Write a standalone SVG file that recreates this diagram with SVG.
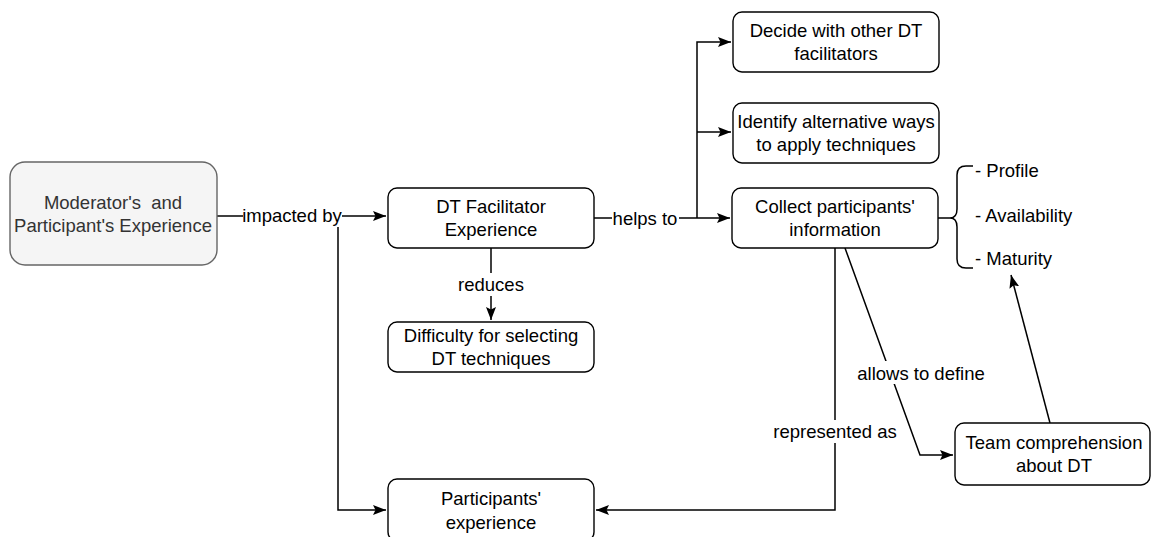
<svg xmlns="http://www.w3.org/2000/svg" width="1152" height="537" viewBox="0 0 1152 537">
<style>
.box{fill:#fff;stroke:#000;stroke-width:1.4}
.grey{fill:#f5f5f5;stroke:#666;stroke-width:1.4}
text{font-family:"Liberation Sans",Arial,sans-serif;font-size:18.5px;fill:#000;text-anchor:middle;white-space:pre}
.gt{fill:#333}
.lt{text-anchor:start}
.edge{fill:none;stroke:#000;stroke-width:1.5}
.lbl{fill:#fff;stroke:none}
</style>
<defs>
<marker id="arr" markerUnits="userSpaceOnUse" markerWidth="14" markerHeight="12" refX="13" refY="5.5" orient="auto">
<path d="M0,0.5 L13,5.5 L0,10.5 L2.5,5.5 Z" fill="#000"/>
</marker>
</defs>
<rect width="1152" height="537" fill="#fff"/>
<g id="connectors">
<path class="edge" d="M217,216 L386,216" marker-end="url(#arr)"/>
<path class="edge" d="M338,216 L338,510 L386,510" marker-end="url(#arr)"/>
<path class="edge" d="M594,218 L730,218" marker-end="url(#arr)"/>
<path class="edge" d="M697,218 L697,42 L731,42" marker-end="url(#arr)"/>
<path class="edge" d="M697,132 L731,132" marker-end="url(#arr)"/>
<path class="edge" d="M491,248 L491,320" marker-end="url(#arr)"/>
<path class="edge" d="M835,248 L835,510 L596,510" marker-end="url(#arr)"/>
<path class="edge" d="M845,248 L920,455 L953,455" marker-end="url(#arr)"/>
<path class="edge" d="M1050,423 L1011,275" marker-end="url(#arr)"/>
<path class="edge" d="M973,166 L966,166 Q957,166 957,175 L957,209 Q957,218 950,218 L938,218 M950,218 Q957,218 957,227 L957,259 Q957,268 966,268 L973,268"/>
<rect class="lbl" x="243" y="204" width="99" height="23"/>
<text x="292" y="222">impacted by</text>
<rect class="lbl" x="612" y="207" width="67" height="23"/>
<text x="645" y="224.5">helps to</text>
<rect class="lbl" x="458" y="273" width="66" height="23"/>
<text x="491" y="291">reduces</text>
<rect class="lbl" x="770" y="420" width="130" height="23"/>
<text x="835" y="438">represented as</text>
<rect class="lbl" x="855" y="361" width="132" height="23"/>
<text x="921" y="379.5">allows to define</text>
</g>
<g id="moderator">
<rect class="grey" x="10" y="162" width="207" height="103" rx="15"/>
<text class="gt" x="113" y="208.5">Moderator's  and</text>
<text class="gt" x="113" y="231.5">Participant's Experience</text>
</g>
<g id="dt-facilitator">
<rect class="box" x="388" y="188" width="206" height="60" rx="9"/>
<text x="491" y="213">DT Facilitator</text>
<text x="491" y="236">Experience</text>
</g>
<g id="difficulty">
<rect class="box" x="388" y="322" width="206" height="50" rx="9"/>
<text x="491" y="342">Difficulty for selecting</text>
<text x="491" y="365">DT techniques</text>
</g>
<g id="decide">
<rect class="box" x="733" y="12" width="206" height="60" rx="9"/>
<text x="836" y="37">Decide with other DT</text>
<text x="836" y="60">facilitators</text>
</g>
<g id="identify">
<rect class="box" x="733" y="103" width="206" height="60" rx="9"/>
<text x="836" y="128">Identify alternative ways</text>
<text x="836" y="151">to apply techniques</text>
</g>
<g id="collect">
<rect class="box" x="732" y="188" width="206" height="60" rx="9"/>
<text x="835" y="213">Collect participants'</text>
<text x="835" y="236">information</text>
</g>
<g id="attributes">
<text class="lt" x="975" y="176.5">- Profile</text>
<text class="lt" x="975" y="221.5">- Availability</text>
<text class="lt" x="975" y="264.5">- Maturity</text>
</g>
<g id="participants-experience">
<rect class="box" x="388" y="479" width="206" height="62" rx="9"/>
<text x="491" y="504.5">Participants'</text>
<text x="491" y="528.5">experience</text>
</g>
<g id="team-comprehension">
<rect class="box" x="955" y="423" width="195" height="62" rx="9"/>
<text x="1054" y="449">Team comprehension</text>
<text x="1054" y="472">about DT</text>
</g>
</svg>
